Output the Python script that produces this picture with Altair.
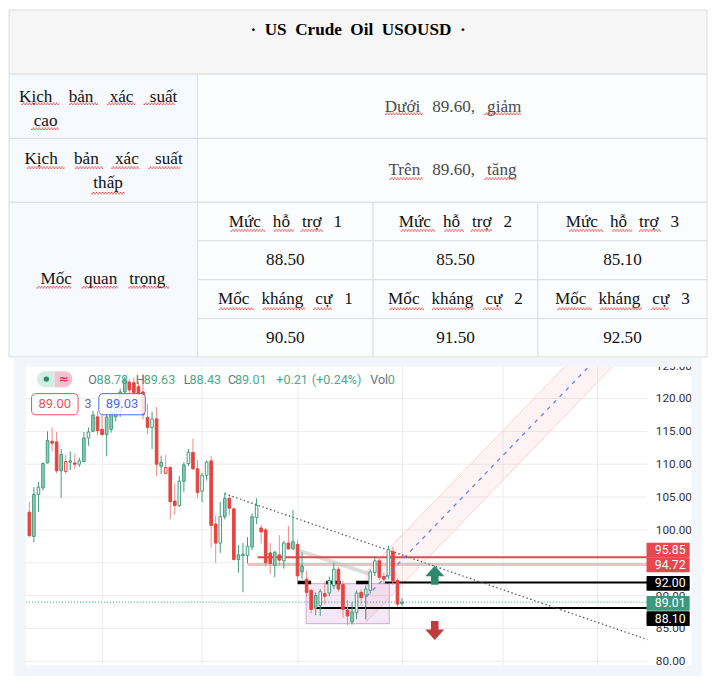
import altair as alt
import pandas as pd

# ---------------- table content ----------------
TITLE_WORDS = ["·", "US", "Crude", "Oil", "USOUSD", "·"]
ROW_LABEL_LINES = [["Kịch bản xác suất", "cao"], ["Kịch bản xác suất", "thấp"]]
ROW_TEXTS = ["Dưới 89.60, giảm", "Trên 89.60, tăng"]
KEY_LABEL = "Mốc quan trọng"
SUPPORT_NAMES = ["Mức hỗ trợ 1", "Mức hỗ trợ 2", "Mức hỗ trợ 3"]
SUPPORT_VALUES = ["88.50", "85.50", "85.10"]
RESIST_NAMES = ["Mốc kháng cự 1", "Mốc kháng cự 2", "Mốc kháng cự 3"]
RESIST_VALUES = ["90.50", "91.50", "92.50"]

# table layout (reference pixel grid)
COL_EDGES = [0, 193.5, 373.5, 542.5, 716]
ROW_EDGES = [0, 66, 132, 197.7, 237.3, 277.3, 317.3, 356.7]
# spell-check underlines under words (x from, x to, y) in the same grid
SQ_X0 = [12.8, 61.6, 100.5, 138, 22.8, 385.8, 487.7,
         18.3, 67.6, 105, 143, 84.5, 390.4, 487.7,
         227.4, 271.7, 299, 401.8, 446.6, 473.5, 574.4, 618.7, 646.1,
         28.3, 74.4, 122.4,
         215.5, 260.3, 311.9, 390.4, 433.8, 486.3, 562.6, 606.4, 658.4]
SQ_X1 = [51.6, 91.3, 130, 170, 51.1, 424.7, 525.1,
         57, 96.8, 133.8, 175.8, 118.7, 424.7, 520.5,
         262.6, 292.2, 322, 437, 466.7, 495.4, 609.6, 639.3, 669,
         63.9, 111.9, 164.4,
         251.1, 303.7, 331, 425.6, 477.2, 505.5, 598.2, 649.3, 677.2]
SQ_Y = [97, 97, 97, 97, 122.7, 107.3, 107.3,
        162.7, 162.7, 162.7, 162.7, 189, 174, 174,
        227.3, 227.3, 227.3, 227.3, 227.3, 227.3, 227.3, 227.3, 227.3,
        285.7, 285.7, 285.7,
        307.7, 307.7, 307.7, 307.7, 307.7, 307.7, 307.7, 307.7, 307.7]

# ---------------- candle data ----------------
KINDS = ["r", "g", "h", "g", "g", "r", "r", "g", "rh", "g",
         "r", "h", "g", "h", "g", "r", "r", "g", "g", "g",
         "g", "g", "r", "r", "r", "r", "r", "h", "r", "g",
         "rh", "r", "r", "h", "g", "h", "r", "r", "h", "h",
         "r", "r", "h", "g", "r", "r", "g", "g", "h", "g",
         "h", "r", "r", "r", "g", "r", "h", "r", "g", "r",
         "g", "r", "r", "g", "h", "r", "h", "h", "r", "r",
         "r", "g", "h", "r", "h", "h", "h", "r", "r", "h",
         "r", "r", "g"]
OPENS = [102.7, 99.0, 105.4, 106.4, 110.2, 113.5, 113.4, 109.0, 110.4, 110.3,
         110.2, 110.0, 110.4, 114.0, 115.0, 117.2, 115.3, 114.5, 115.3, 117.2,
         118.0, 121.0, 122.5, 122.4, 121.8, 121.0, 117.1, 115.6, 116.9, 109.7,
         109.5, 109.5, 104.4, 103.7, 107.4, 110.1, 111.8, 109.3, 105.9, 108.3,
         110.5, 100.9, 98.0, 102.0, 104.8, 103.2, 95.5, 96.1, 96.1, 97.4,
         101.9, 100.3, 100.0, 96.5, 94.6, 96.2, 95.3, 98.0, 97.1, 97.8,
         93.6, 92.5, 90.8, 88.1, 88.5, 90.3, 90.4, 91.5, 94.0, 91.7,
         87.8, 86.0, 87.4, 90.5, 90.1, 90.8, 93.5, 95.3, 92.9, 93.0,
         96.7, 92.3, 88.78]
CLOSES = [99.1, 105.4, 106.5, 110.1, 113.6, 113.2, 109.0, 111.5, 108.9, 110.5,
          110.0, 110.5, 114.0, 114.9, 117.5, 115.1, 114.5, 117.2, 118.0, 120.0,
          121.0, 122.7, 121.3, 120.9, 120.6, 117.5, 115.6, 116.9, 110.0, 110.3,
          108.6, 104.3, 103.7, 107.4, 109.9, 111.8, 109.3, 105.7, 108.3, 110.3,
          100.7, 98.0, 102.0, 104.8, 103.3, 95.5, 96.2, 96.3, 97.5, 102.0,
          103.7, 99.7, 95.0, 94.9, 96.6, 95.4, 98.0, 97.1, 98.2, 93.0,
          94.5, 90.5, 87.9, 90.0, 90.6, 89.9, 92.3, 94.0, 91.0, 87.9,
          86.9, 87.5, 90.4, 89.7, 91.0, 93.6, 95.3, 92.8, 92.5, 97.0,
          92.3, 88.7, 89.01]
HIGHS = [104.2, 106.5, 107.3, 110.3, 115.0, 115.6, 114.9, 112.3, 111.4, 111.9,
         111.6, 111.0, 114.9, 115.6, 118.1, 118.0, 117.9, 118.0, 118.9, 120.5,
         121.5, 123.3, 123.0, 123.2, 122.5, 123.7, 119.2, 118.0, 118.7, 111.3,
         111.4, 109.7, 107.1, 108.2, 110.3, 112.3, 113.9, 110.6, 108.7, 110.6,
         111.3, 102.2, 104.3, 105.7, 105.1, 103.4, 97.7, 98.0, 98.9, 102.5,
         104.8, 100.8, 100.3, 98.0, 96.8, 99.2, 98.3, 100.6, 103.0, 98.5,
         96.6, 93.8, 91.0, 90.5, 91.0, 92.1, 92.9, 95.0, 94.4, 92.3,
         89.3, 89.0, 90.8, 91.0, 91.5, 94.0, 95.9, 96.0, 93.5, 97.6,
         97.4, 92.6, 89.63]
LOWS = [99.0, 98.1, 102.7, 106.0, 110.1, 111.9, 108.6, 104.9, 108.5, 109.1,
        109.2, 109.6, 110.3, 112.8, 114.9, 114.4, 114.4, 111.2, 114.8, 116.5,
        117.2, 120.5, 120.6, 120.2, 119.8, 116.8, 114.6, 112.3, 108.2, 108.5,
        108.5, 101.6, 102.3, 103.5, 105.8, 109.7, 109.1, 104.9, 104.2, 107.5,
        97.3, 95.0, 96.5, 101.6, 102.2, 95.3, 93.5, 90.5, 94.9, 96.9,
        100.9, 97.9, 94.4, 93.3, 92.8, 94.5, 94.1, 97.0, 97.0, 92.1,
        92.5, 89.8, 87.3, 87.0, 86.9, 88.7, 89.9, 91.0, 90.6, 86.6,
        85.5, 85.6, 86.4, 88.5, 86.4, 90.3, 93.0, 92.3, 91.8, 92.5,
        91.6, 88.3, 88.43]

# header quote
HDR_LABELS = ["O", "H", "L", "C", "", "", "Vol"]
HDR_VALUES = ["88.78", "89.63", "88.43", "89.01", "+0.21", "(+0.24%)", "0"]

# price axis: grid ticks and the labels that are not hidden behind price tags
PRICE_TICKS = [80, 85, 90, 95, 100, 105, 110, 115, 120, 125]
LABEL_TICKS = [80, 85, 90, 100, 105, 110, 115, 120, 125]
LAST_PRICE = 89.01
# horizontal levels drawn on the chart
RED_LEVEL = 95.85
PINK_LEVEL = 94.72
BLACK_LEVELS = [92.00, 88.10]
# right side price tags (price text, colour key, tag centre)
TAG_TEXTS = ["95.85", "94.72", "92.00", "89.01", "88.10"]
TAG_KINDS = ["red", "red", "black", "green", "black"]
TAG_CENTERS = [96.90, 94.68, 91.86, 88.81, 86.51]

# ---------------- table chart ----------------
TW, TH = 700, 348
tx = alt.Scale(domain=[0, 716], nice=False, zero=False)
ty = alt.Scale(domain=[0, 356.7], nice=False, zero=False, reverse=True)

cells = [dict(x0=COL_EDGES[0], x1=COL_EDGES[4], y0=ROW_EDGES[0], y1=ROW_EDGES[1], role="title")]
for r in (1, 2):
    cells.append(dict(x0=COL_EDGES[0], x1=COL_EDGES[1], y0=ROW_EDGES[r], y1=ROW_EDGES[r + 1], role="left"))
    cells.append(dict(x0=COL_EDGES[1], x1=COL_EDGES[4], y0=ROW_EDGES[r], y1=ROW_EDGES[r + 1], role="cell"))
cells.append(dict(x0=COL_EDGES[0], x1=COL_EDGES[1], y0=ROW_EDGES[3], y1=ROW_EDGES[7], role="left"))
for c in range(3):
    for r in range(3, 7):
        cells.append(dict(x0=COL_EDGES[c + 1], x1=COL_EDGES[c + 2], y0=ROW_EDGES[r], y1=ROW_EDGES[r + 1], role="cell"))
cells_df = pd.DataFrame(cells)

G = "\u00a0\u00a0\u2009"
G3 = "\u00a0\u00a0\u00a0\u2009"


def spaced(s, gap=G):
    return gap.join(s.split(" "))


texts = []
texts.append(dict(x=358, y=21, t="\u00a0\u00a0".join(TITLE_WORDS), role="title"))
texts.append(dict(x=91.5, y=89, t=spaced(ROW_LABEL_LINES[0][0], G3), role="body"))
texts.append(dict(x=37.5, y=114, t=ROW_LABEL_LINES[0][1], role="body"))
texts.append(dict(x=455.5, y=100, t=spaced(ROW_TEXTS[0]), role="gray"))
texts.append(dict(x=97, y=153, t=spaced(ROW_LABEL_LINES[1][0], G3), role="body"))
texts.append(dict(x=101.6, y=178, t=ROW_LABEL_LINES[1][1], role="body"))
texts.append(dict(x=455, y=165, t=spaced(ROW_TEXTS[1]), role="gray"))
texts.append(dict(x=96.4, y=277, t=spaced(KEY_LABEL), role="body"))
for c in range(3):
    cx = (COL_EDGES[c + 1] + COL_EDGES[c + 2]) / 2
    rows = [SUPPORT_NAMES[c], SUPPORT_VALUES[c], RESIST_NAMES[c], RESIST_VALUES[c]]
    for k, s in enumerate(rows):
        cy = (ROW_EDGES[3 + k] + ROW_EDGES[4 + k]) / 2
        texts.append(dict(x=cx, y=cy, t=spaced(s), role="body"))
texts_df = pd.DataFrame(texts)

cell_layer = alt.Chart(cells_df).mark_rect(stroke="#dddddd", strokeWidth=1).encode(
    x=alt.X("x0:Q", scale=tx, axis=None), x2="x1:Q",
    y=alt.Y("y0:Q", scale=ty, axis=None), y2="y1:Q",
    fill=alt.Fill("role:N", legend=None,
                  scale=alt.Scale(domain=["title", "left", "cell"],
                                  range=["#f6f6f6", "#f6f9fd", "#fcfdfe"])))


def tlayer(role, color, weight):
    return alt.Chart(texts_df).transform_filter(alt.datum.role == role).mark_text(
        font="Liberation Serif", fontSize=17.2, fontWeight=weight, color=color,
        align="center", baseline="middle").encode(
        x=alt.X("x:Q", scale=tx, axis=None), y=alt.Y("y:Q", scale=ty, axis=None), text="t:N")


sq_df = pd.DataFrame(dict(a=SQ_X0, b=SQ_X1, y=SQ_Y))
sq1 = alt.Chart(sq_df).mark_rule(color="#e0352b", strokeWidth=1, strokeDash=[1.5, 1.5]).encode(
    x=alt.X("a:Q", scale=tx, axis=None), x2="b:Q", y=alt.Y("y:Q", scale=ty, axis=None))
sq2 = alt.Chart(sq_df).mark_rule(color="#e0352b", strokeWidth=1, strokeDash=[1.5, 1.5],
                                 strokeDashOffset=1.5, yOffset=-1.2).encode(
    x=alt.X("a:Q", scale=tx, axis=None), x2="b:Q", y=alt.Y("y:Q", scale=ty, axis=None))

table = alt.layer(cell_layer, tlayer("title", "#000000", "bold"), tlayer("body", "#111111", "normal"),
                  tlayer("gray", "#4a4a4a", "normal"), sq1, sq2).properties(width=TW, height=TH)

# ---------------- candlestick chart ----------------
CW, CH = 700, 319
XS = alt.Scale(domain=[-3.38, 148.0], nice=False, zero=False)
YS = alt.Scale(domain=[77.76, 126.17], nice=False, zero=False)
PL, PR, PT, PB = -0.70, 135.94, 124.84, 79.39   # plot (white) area in data units
WR = 145.67                                     # right end of white area
LABEL_X = 137.84                                # left edge of price labels


def X(f):
    return alt.X(f, type="quantitative", scale=XS, axis=None)


def Y(f):
    return alt.Y(f, type="quantitative", scale=YS, axis=None)


n = len(OPENS)
candles = pd.DataFrame(dict(i=list(range(n)), o=OPENS, c=CLOSES, h=HIGHS, l=LOWS, k=KINDS))

kind_dom = ["g", "h", "r", "rh"]
wick_col = alt.Scale(domain=kind_dom, range=["#3f9d7e", "#3f9d7e", "#f08a8a", "#f08a8a"])
body_fill = alt.Scale(domain=kind_dom, range=["#93cdb6", "#ffffff", "#e8423f", "#ffffff"])
body_stroke = alt.Scale(domain=kind_dom, range=["#3f9d7e", "#3f9d7e", "#e8423f", "#e8423f"])

# gridlines
hgrid = pd.DataFrame(dict(p=PRICE_TICKS, a=PL, b=PR))
hgrid_layer = alt.Chart(hgrid).mark_rule(color="#ededed", strokeWidth=1).encode(
    x=X("a"), x2="b", y=Y("p"))
VGRID = [16.1, 38.0, 59.1, 82.1, 104.2, 125.0]
vgrid_layer = alt.Chart(pd.DataFrame(dict(i=VGRID, a=PB, b=PT))).mark_rule(
    color="#ededed", strokeWidth=1).encode(x=X("i"), y=Y("a"), y2="b")

# price scale labels
plabels = pd.DataFrame(dict(p=LABEL_TICKS, t=[f"{v:.2f}" for v in LABEL_TICKS], i=LABEL_X))
plabel_layer = alt.Chart(plabels).mark_text(font="Roboto", fontSize=11.8, color="#2f3240",
                                            align="left", baseline="middle").encode(
    x=X("i"), y=Y("p"), text="t:N")

# parallel channel
band = pd.DataFrame(dict(i=[74.14, 117.76, 128.33], top=[93.60, 124.84, 124.84], bot=[86.04, 117.26, 124.84]))
band_layer = alt.Chart(band).mark_area(color="#f23645", opacity=0.06).encode(
    x=X("i"), y=Y("top"), y2="bot")
band_edges = pd.DataFrame(dict(a=[74.14, 74.14, 74.14], pa=[93.60, 86.04, 86.04],
                               b=[117.76, 128.33, 74.14], pb=[124.84, 124.84, 93.60]))
band_edge_layer = alt.Chart(band_edges).mark_rule(color="#f9d3d7", strokeWidth=1).encode(
    x=X("a"), y=Y("pa"), x2="b", y2="pb")
mid_line = pd.DataFrame(dict(a=[74.14], pa=[89.82], b=[123.07], pb=[124.84]))
mid_layer = alt.Chart(mid_line).mark_rule(color="#5b78f5", strokeWidth=1.2, strokeDash=[4, 5]).encode(
    x=X("a"), y=Y("pa"), x2="b", y2="pb")

# range box
box = pd.DataFrame(dict(a=[60.9], b=[79.2], lo=[85.73], hi=[91.82]))
box_layer = alt.Chart(box).mark_rect(fill="#9c27b0", fillOpacity=0.11, stroke="#d3a4dc", strokeWidth=1).encode(
    x=X("a"), x2="b", y=Y("lo"), y2="hi")

# grey helper line
grey = pd.DataFrame(dict(a=[59.2], pa=[96.9], b=[75.2], pb=[93.2]))
grey_layer = alt.Chart(grey).mark_rule(color="#c4c4c4", strokeWidth=4, opacity=0.6).encode(
    x=X("a"), y=Y("pa"), x2="b", y2="pb")

# horizontal levels
red_layer = alt.Chart(pd.DataFrame(dict(a=[50.2], b=[PR], p=[RED_LEVEL]))).mark_rule(
    color="#e5484d", strokeWidth=2).encode(x=X("a"), x2="b", y=Y("p"))
pink_layer = alt.Chart(pd.DataFrame(dict(a=[48.0], b=[PR], p=[PINK_LEVEL]))).mark_rule(
    color="#f4adb3", strokeWidth=3, opacity=0.8).encode(x=X("a"), x2="b", y=Y("p"))
blk_main = pd.DataFrame(dict(a=[78.2, 62.9], b=[PR, PR], p=BLACK_LEVELS))
blk_layer = alt.Chart(blk_main).mark_rule(color="#000000", strokeWidth=2).encode(
    x=X("a"), x2="b", y=Y("p"))
blk_seg = pd.DataFrame(dict(a=[59.0, 65.3, 71.9], b=[62.0, 68.5, 74.8], p=[BLACK_LEVELS[0]] * 3))
blk_seg_layer = alt.Chart(blk_seg).mark_rule(color="#000000", strokeWidth=3.5).encode(
    x=X("a"), x2="b", y=Y("p"))

# dotted trend line
trend = pd.DataFrame(dict(a=[43.0], pa=[105.5], b=[136.0], pb=[83.3]))
trend_layer = alt.Chart(trend).mark_rule(color="#555555", strokeWidth=1.2, strokeDash=[1.5, 2.5]).encode(
    x=X("a"), y=Y("pa"), x2="b", y2="pb")

# candles
wick_layer = alt.Chart(candles).mark_rule(strokeWidth=1).encode(
    x=X("i"), y=Y("l"), y2="h", color=alt.Color("k:N", scale=wick_col, legend=None))
body_layer = alt.Chart(candles).mark_bar(size=2.6, strokeWidth=1).encode(
    x=X("i"), y=Y("o"), y2="c",
    fill=alt.Fill("k:N", scale=body_fill, legend=None),
    stroke=alt.Stroke("k:N", scale=body_stroke, legend=None))

# last price dotted line
last_layer = alt.Chart(pd.DataFrame(dict(a=[PL], b=[PR], p=[LAST_PRICE]))).mark_rule(
    color="#26a07f", strokeWidth=1, strokeDash=[1, 2]).encode(x=X("a"), x2="b", y=Y("p"))

# arrows
UP = "M0,-1L1,0.1L0.4,0.1L0.4,1L-0.4,1L-0.4,0.1L-1,0.1Z"
DOWN = "M0,1L1,-0.1L0.4,-0.1L0.4,-1L-0.4,-1L-0.4,-0.1L-1,-0.1Z"
up_layer = alt.Chart(pd.DataFrame(dict(i=[89.2], p=[93.1]))).mark_point(
    shape=UP, filled=True, size=360, color="#2b8a6b", opacity=1).encode(x=X("i"), y=Y("p"))
down_layer = alt.Chart(pd.DataFrame(dict(i=[89.2], p=[84.7]))).mark_point(
    shape=DOWN, filled=True, size=360, color="#c23b3b", opacity=1).encode(x=X("i"), y=Y("p"))

# frame strips
strips = pd.DataFrame(dict(a=[-3.38, WR, -3.38, -3.38], b=[PL, 148.0, 148.0, 148.0],
                           lo=[77.76, 77.76, PT, 77.76], hi=[126.17, 126.17, 126.17, PB]))
strip_layer = alt.Chart(strips).mark_rect(color="#f2f6fb").encode(
    x=X("a"), x2="b", y=Y("lo"), y2="hi")

# header: pill icon
pill = pd.DataFrame(dict(a=[1.69], b=[5.56], lo=[121.72], hi=[124.14]))
pill_l = alt.Chart(pill).mark_rect(color="#d3ede2", cornerRadiusTopLeft=8, cornerRadiusBottomLeft=8).encode(
    x=X("a"), x2="b", y=Y("lo"), y2="hi")
pill2 = pd.DataFrame(dict(a=[5.56], b=[9.45], lo=[121.72], hi=[124.14]))
pill_r = alt.Chart(pill2).mark_rect(color="#f4c2ce", cornerRadiusTopRight=8, cornerRadiusBottomRight=8).encode(
    x=X("a"), x2="b", y=Y("lo"), y2="hi")
dot = alt.Chart(pd.DataFrame(dict(i=[3.74], p=[122.95]))).mark_point(
    shape="circle", filled=True, size=30, color="#2b8a6b", opacity=1).encode(x=X("i"), y=Y("p"))
wave = alt.Chart(pd.DataFrame(dict(i=[7.5], p=[122.95], t=["≈"]))).mark_text(
    font="DejaVu Sans", fontSize=12, fontWeight="bold", color="#e0315b", align="center", baseline="middle").encode(
    x=X("i"), y=Y("p"), text="t:N")

# header: OHLC text
HDR_LABEL_X = [12.96, 23.40, 33.97, 43.70, 0, 0, 74.99]
HDR_VALUE_X = [14.80, 25.16, 35.24, 45.24, 54.33, 62.16, 78.86]
hdr_lab = pd.DataFrame(dict(i=[x for x, s in zip(HDR_LABEL_X, HDR_LABELS) if s],
                            t=[s for s in HDR_LABELS if s], p=122.86))
hdr_val = pd.DataFrame(dict(i=HDR_VALUE_X, t=HDR_VALUES, p=122.86))
hdr_lab_layer = alt.Chart(hdr_lab).mark_text(font="Roboto", fontSize=12.6, color="#6d707b",
                                             align="left", baseline="middle").encode(
    x=X("i"), y=Y("p"), text="t:N")
hdr_val_layer = alt.Chart(hdr_val).mark_text(font="Roboto", fontSize=12.6, color="#4ca98a",
                                             align="left", baseline="middle").encode(
    x=X("i"), y=Y("p"), text="t:N")

# header: order boxes
okind = alt.Scale(domain=["sell", "buy"], range=["#ef4f58", "#4f6cf2"])
obox = pd.DataFrame(dict(a=[0.49, 15.29], b=[10.72, 25.52], lo=[117.52, 117.52], hi=[120.74, 120.74],
                         k=["sell", "buy"], t=["89.00", "89.03"], m=[5.6, 20.4], p=[119.13, 119.13]))
obox_layer = alt.Chart(obox).mark_rect(fill="#ffffff", fillOpacity=0.85, strokeWidth=1, cornerRadius=4).encode(
    x=X("a"), x2="b", y=Y("lo"), y2="hi", stroke=alt.Stroke("k:N", scale=okind, legend=None))
otext_layer = alt.Chart(obox).mark_text(font="Roboto", fontSize=13, align="center", baseline="middle").encode(
    x=X("m"), y=Y("p"), text="t:N", color=alt.Color("k:N", scale=okind, legend=None))
qty_layer = alt.Chart(pd.DataFrame(dict(i=[12.9], p=[119.13], t=["3"]))).mark_text(
    font="Roboto", fontSize=12.5, color="#6d707b", align="center", baseline="middle").encode(
    x=X("i"), y=Y("p"), text="t:N")

# right price tags
tags = pd.DataFrame(dict(t=TAG_TEXTS, k=TAG_KINDS, p=TAG_CENTERS))
tags["lo"] = tags["p"] - 1.13
tags["hi"] = tags["p"] + 1.13
tags["a"] = 135.79
tags["b"] = 145.29
tags["m"] = 141.0
tag_col = alt.Scale(domain=["red", "black", "green"], range=["#e8474d", "#000000", "#3b9a7d"])
tag_layer = alt.Chart(tags).mark_rect(cornerRadius=1).encode(
    x=X("a"), x2="b", y=Y("lo"), y2="hi", fill=alt.Fill("k:N", scale=tag_col, legend=None))
tag_text_layer = alt.Chart(tags).mark_text(font="Roboto", fontSize=12.3, color="#ffffff",
                                           align="center", baseline="middle").encode(
    x=X("m"), y=Y("p"), text="t:N")

chart_panel = alt.layer(
    hgrid_layer, vgrid_layer, band_layer, band_edge_layer, box_layer, grey_layer,
    pink_layer, red_layer, blk_layer, blk_seg_layer, trend_layer,
    wick_layer, body_layer, mid_layer, last_layer, up_layer, down_layer,
    plabel_layer, strip_layer, pill_l, pill_r, dot, wave, hdr_lab_layer, hdr_val_layer,
    obox_layer, otext_layer, qty_layer, tag_layer, tag_text_layer
).resolve_scale(fill="independent", stroke="independent", color="independent").properties(width=CW, height=CH)

chart = alt.vconcat(table, chart_panel, spacing=0).properties(
    padding=0, background="#ffffff"
).configure_view(strokeWidth=0)

chart.save("out.html", embed_options={"renderer": "svg", "actions": False})
